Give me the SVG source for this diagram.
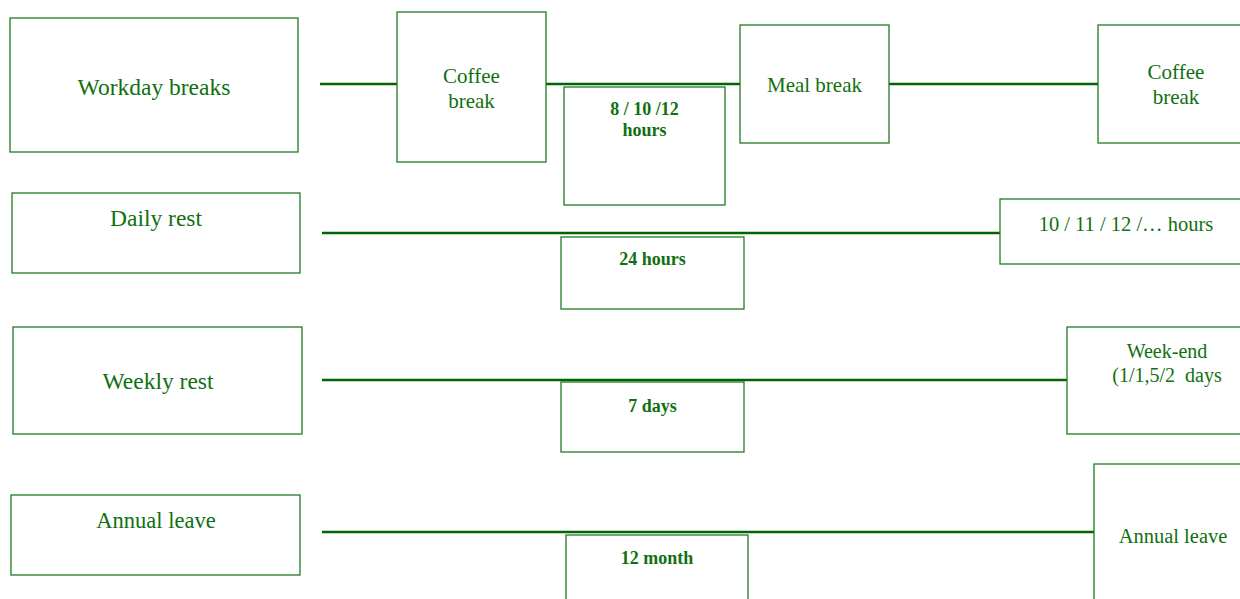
<svg xmlns="http://www.w3.org/2000/svg" width="1240" height="599" viewBox="0 0 1240 599">
<style>
.box{fill:#ffffff;stroke:#217a21;stroke-width:1.3}
.t{font-family:"Liberation Serif","Times New Roman","DejaVu Serif",serif;fill:#107010;text-anchor:middle}
.b{font-weight:bold;font-size:18px}
.c{stroke:#006400;stroke-width:2.6;fill:none}
</style>
<rect width="1240" height="599" fill="#ffffff"/>
<g id="connectors">
<line class="c" x1="320" y1="84" x2="397" y2="84"/>
<line class="c" x1="546" y1="84" x2="740" y2="84"/>
<line class="c" x1="889" y1="84" x2="1098" y2="84"/>
<line class="c" x1="322" y1="233" x2="1000" y2="233"/>
<line class="c" x1="322" y1="380" x2="1067" y2="380"/>
<line class="c" x1="322" y1="532" x2="1094" y2="532"/>
</g>
<g id="workday-breaks"><rect class="box" x="10" y="18" width="288" height="134"/><text class="t" x="154" y="95" font-size="23.5">Workday breaks</text></g>
<g id="coffee-break-1"><rect class="box" x="397" y="12" width="149" height="150"/><text class="t" x="471.5" y="83" font-size="21">Coffee</text><text class="t" x="471.5" y="108" font-size="21">break</text></g>
<g id="hours-8-10-12"><rect class="box" x="564" y="87" width="161" height="118"/><text class="t b" x="644.5" y="115">8 / 10 /12</text><text class="t b" x="644.5" y="136">hours</text></g>
<g id="meal-break"><rect class="box" x="740" y="25" width="149" height="118"/><text class="t" x="814.5" y="92" font-size="21">Meal break</text></g>
<g id="coffee-break-2"><rect class="box" x="1098" y="25" width="160" height="118"/><text class="t" x="1176" y="79" font-size="21">Coffee</text><text class="t" x="1176" y="104" font-size="21">break</text></g>
<g id="daily-rest"><rect class="box" x="12" y="193" width="288" height="80"/><text class="t" x="156" y="226" font-size="23.5">Daily rest</text></g>
<g id="hours-24"><rect class="box" x="561" y="237" width="183" height="72"/><text class="t b" x="652.5" y="265">24 hours</text></g>
<g id="hours-10-11-12"><rect class="box" x="1000" y="199" width="260" height="65"/><text class="t" x="1126" y="231" font-size="20.5">10 / 11 / 12 /… hours</text></g>
<g id="weekly-rest"><rect class="box" x="13" y="327" width="289" height="107"/><text class="t" x="158" y="389" font-size="23.5">Weekly rest</text></g>
<g id="days-7"><rect class="box" x="561" y="382" width="183" height="70"/><text class="t b" x="652.5" y="412">7 days</text></g>
<g id="week-end"><rect class="box" x="1067" y="327" width="193" height="107"/><text class="t" x="1167" y="358" font-size="20">Week-end</text><text class="t" x="1167" y="382" font-size="20" xml:space="preserve" style="white-space:pre">(1/1,5/2  days</text></g>
<g id="annual-leave"><rect class="box" x="11" y="495" width="289" height="80"/><text class="t" x="156" y="528" font-size="22.5">Annual leave</text></g>
<g id="month-12"><rect class="box" x="566" y="535" width="182" height="80"/><text class="t b" x="657" y="564">12 month</text></g>
<g id="annual-leave-2"><rect class="box" x="1094" y="464" width="170" height="150"/><text class="t" x="1173" y="543" font-size="20.5">Annual leave</text></g>
</svg>
